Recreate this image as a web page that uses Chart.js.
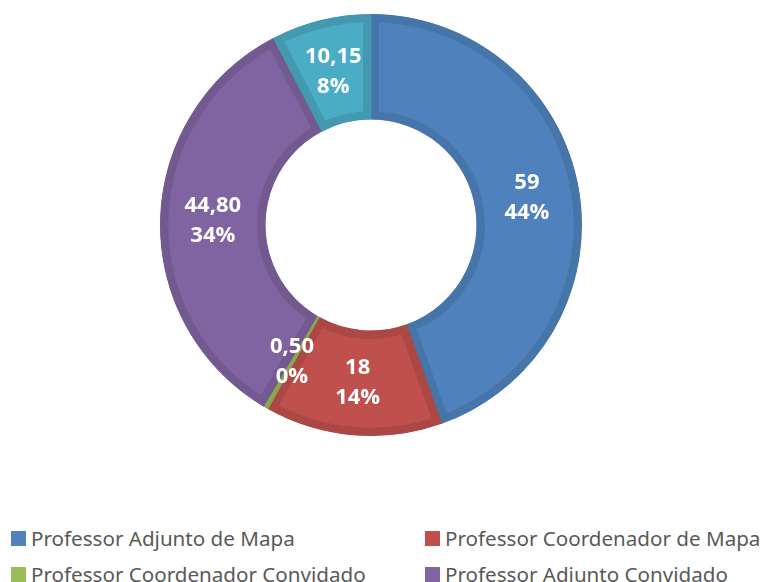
<!DOCTYPE html>
<html>
<head>
<meta charset="utf-8">
<script src="https://cdn.jsdelivr.net/npm/chart.js@4/dist/chart.umd.min.js"></script>
<style>
    body { margin: 0; background: #fff; width: 763px; height: 582px; overflow: hidden; position: relative; }
    #wrap { position: absolute; left: 0; top: 0; width: 763px; height: 450px; }
    #legend { position: absolute; left: 0; top: 0; font-family: 'Noto Sans', sans-serif; font-size: 20.6px; color: #595959; }
    .item { position: absolute; white-space: nowrap; display: flex; align-items: center; }
    .box { width: 15px; height: 15px; margin-right: 5px; }
</style>
</head>
<body>
<div id="wrap"><canvas id="chart"></canvas></div>
<div id="legend"></div>
<script>
const labels = [
    'Professor Adjunto de Mapa',
    'Professor Coordenador de Mapa',
    'Professor Coordenador Convidado',
    'Professor Adjunto Convidado',
    '',
]
const values = [59, 18, 0.5, 44.8, 10.15]
const fills = ['#4f81bd', '#c0504d', '#9bbb59', '#8064a2', '#4bacc6']
const borders = ['#4675aa', '#ab4744', '#89a64e', '#72598f', '#4399b0']

function formatValue(v) {
    return Number.isInteger(v) ? String(v) : v.toFixed(2).replace('.', ',')
}

// whole percentages that add up to 100, the way Excel shows them
function percents(data) {
    const total = data.reduce((s, v) => s + v, 0)
    const raw = data.map(v => v / total * 100)
    const out = raw.map(Math.floor)
    let left = 100 - out.reduce((s, v) => s + v, 0)
    const order = raw.map((v, i) => i).sort((a, b) => (raw[b] - out[b]) - (raw[a] - out[a]))
    for (let k = 0; k < left; k++) out[order[k]]++
    return out
}

const pct = percents(values)

const sliceLabels = {
    id: 'sliceLabels',
    afterDatasetsDraw(chart) {
        const ctx = chart.ctx
        const meta = chart.getDatasetMeta(0)
        ctx.save()
        ctx.fillStyle = '#ffffff'
        ctx.font = 'bold 22px "Open Sans", sans-serif'
        ctx.textAlign = 'center'
        ctx.textBaseline = 'middle'
        meta.data.forEach((arc, i) => {
            const p = arc.tooltipPosition()
            ctx.fillText(formatValue(values[i]), p.x, p.y - 15)
            ctx.fillText(pct[i] + '%', p.x, p.y + 15)
        })
        ctx.restore()
    },
}

new Chart(document.getElementById('chart'), {
    type: 'doughnut',
    data: {
        labels: labels,
        datasets: [{
            data: values,
            backgroundColor: fills,
            borderColor: borders,
            borderWidth: 8,
            borderAlign: 'inner',
            hoverBorderWidth: 8,
        }],
    },
    options: {
        responsive: true,
        maintainAspectRatio: false,
        animation: false,
        cutout: '50%',
        layout: { padding: { top: 14, bottom: 14, left: 0, right: 21 } },
        plugins: {
            legend: { display: false },
            tooltip: { enabled: false },
        },
    },
    plugins: [sliceLabels],
})

// legend in two fixed columns, like the original
const legendPos = [[11, 538], [425, 538], [11, 574], [425, 574]]
const legend = document.getElementById('legend')
legendPos.forEach((pos, i) => {
    const el = document.createElement('div')
    el.className = 'item'
    el.style.left = pos[0] + 'px'
    el.style.top = (pos[1] - 14) + 'px'
    el.style.height = '28px'
    el.innerHTML = `<span class="box" style="background:${fills[i]}"></span><span>${labels[i]}</span>`
    legend.appendChild(el)
})
</script>
</body>
</html>
